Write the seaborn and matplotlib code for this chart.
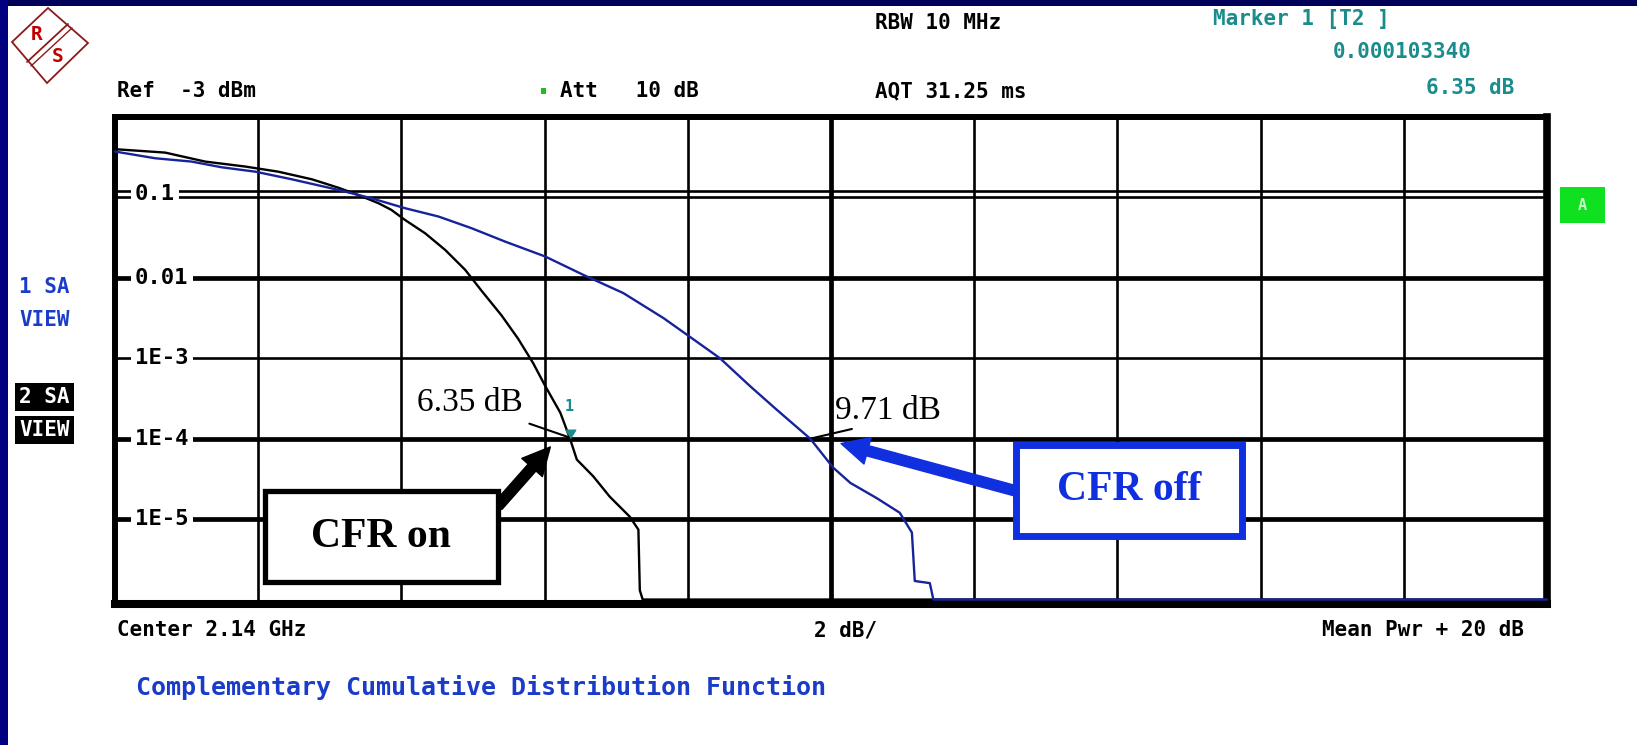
import pandas as pd
import seaborn as sns
import matplotlib.pyplot as plt
from matplotlib.patches import Rectangle, Polygon

cfr_on_db = [0.0, 0.70, 1.26, 1.82, 2.28, 2.75, 3.12, 3.40, 3.68, 3.86,
             4.05, 4.33, 4.61, 4.89, 5.12, 5.40, 5.63, 5.84, 6.01, 6.22,
             6.35, 6.45, 6.68, 6.91, 7.19, 7.31, 7.33, 7.37, 20.0]
cfr_on_ccdf = [0.398, 0.361, 0.279, 0.242, 0.209, 0.168, 0.132, 0.107, 0.0847, 0.070,
               0.0525, 0.0359, 0.0223, 0.0126, 0.0069, 0.0034, 0.00175, 0.00087, 0.00045, 0.00021,
               0.000103, 0.000055, 0.000034, 0.000019, 0.0000107, 0.0000074, 0.0000013, 0.000001, 0.000001]

cfr_off_db = [0.0, 0.56, 1.07, 1.49, 1.96, 2.47, 3.12, 3.58, 4.05, 4.52,
              4.98, 5.45, 6.01, 6.54, 7.10, 7.66, 8.01, 8.45, 8.87, 9.24,
              9.71, 10.03, 10.27, 10.64, 10.96, 11.13, 11.17, 11.38, 11.43, 20.0]
cfr_off_ccdf = [0.372, 0.307, 0.279, 0.237, 0.209, 0.168, 0.124, 0.0977, 0.0735, 0.0578,
                0.0414, 0.0282, 0.0184, 0.0109, 0.00646, 0.00316, 0.0019, 0.001, 0.00045, 0.00023,
                0.0001, 0.0000437, 0.0000282, 0.0000182, 0.000012, 0.0000068, 0.0000017, 0.0000016, 0.000001, 0.000001]

y_ticks = [1e-1, 1e-2, 1e-3, 1e-4, 1e-5]
y_labels = ["0.1", "0.01", "1E-3", "1E-4", "1E-5"]
thick_rows = [1e-2, 1e-4, 1e-5]
x_grid = [2, 4, 6, 8, 10, 12, 14, 16, 18]

marker_db = 6.35
marker_ccdf = 0.000103340
off_db = 9.71
off_ccdf = 1e-4

MONO = "DejaVu Sans Mono"
SERIF = "Liberation Serif"
NAVY = "#00005a"
TEAL = "#1a8c8c"
TRACE_BLUE = "#16239a"
BLUE = "#1030e0"

sns.set_style("white")
plt.rcParams["font.family"] = ["DejaVu Sans"]

W, H = 1637, 745
fig = plt.figure(figsize=(W / 100, H / 100), dpi=100)
fig.patch.set_facecolor("white")


def fx(px):
    return px / W


def fy(py):
    return 1 - py / H


ax = fig.add_axes([fx(115), fy(604), fx(1547) - fx(115), fy(117) - fy(604)])
ax.set_yscale("log")

df = pd.concat([
    pd.DataFrame({"db": cfr_on_db, "ccdf": cfr_on_ccdf, "trace": "on"}),
    pd.DataFrame({"db": cfr_off_db, "ccdf": cfr_off_ccdf, "trace": "off"}),
])
sns.lineplot(data=df, x="db", y="ccdf", hue="trace",
             palette={"on": "black", "off": TRACE_BLUE},
             estimator=None, sort=False, linewidth=1.7, legend=False, ax=ax)
for line in ax.lines:
    line.set_clip_on(False)
    line.set_zorder(5)

ax.set_xlim(0, 20)
ax.set_ylim(0.88e-6, 1)
ax.tick_params(which="both", left=False, bottom=False, labelleft=False, labelbottom=False)
ax.set_xlabel("")
ax.set_ylabel("")

# grille style analyseur
for v in x_grid:
    ax.axvline(v, color="black", lw=3.4 if v == 10 else 1.9, zorder=1)
for v in y_ticks:
    ax.axhline(v, color="black", lw=3.4 if v in thick_rows else 1.9, zorder=1)
ax.axhline(0.119, color="black", lw=1.9, zorder=1)

for s in ax.spines.values():
    s.set_visible(True)
    s.set_color("black")
    s.set_linewidth(4.3)
    s.set_zorder(4)
ax.spines["bottom"].set_linewidth(5.8)
ax.spines["right"].set_linewidth(5.5)

for v, lab in zip(y_ticks, y_labels):
    yv = 0.109 if lab == "0.1" else v
    ax.text(0.014, yv, lab, transform=ax.get_yaxis_transform(), ha="left", va="center",
            family=MONO, weight="bold", fontsize=16, color="black", zorder=3,
            bbox=dict(facecolor="white", edgecolor="none", pad=3))

# marqueur 1
ax.plot([marker_db], [marker_ccdf], linestyle="none", marker=[(-1, 1.6), (1, 1.6), (0, 0)],
        markersize=12, color=TEAL, zorder=7, clip_on=False)
ax.annotate("1", xy=(marker_db, marker_ccdf), xytext=(0, 22), textcoords="offset points",
            ha="center", va="center", family=MONO, weight="bold", fontsize=11, color=TEAL)

# annotations des valeurs
ax.annotate("", xy=(marker_db, marker_ccdf), xytext=(-29, 10), textcoords="offset points",
            arrowprops=dict(arrowstyle="-", color="black", lw=1.5, shrinkA=0, shrinkB=0))
ax.annotate("6.35 dB", xy=(marker_db, marker_ccdf), xytext=(-34, 19), textcoords="offset points",
            ha="right", va="baseline", family=SERIF, fontsize=24, color="black")
ax.annotate("", xy=(off_db, off_ccdf), xytext=(30, 7), textcoords="offset points",
            arrowprops=dict(arrowstyle="-", color="black", lw=1.5, shrinkA=0, shrinkB=0))
ax.annotate("9.71 dB", xy=(off_db, off_ccdf), xytext=(18, 14), textcoords="offset points",
            ha="left", va="baseline", family=SERIF, fontsize=24, color="black")

# flèches vers les boîtes CFR
ax.annotate("", xy=(6.08, 7.9e-5), xytext=(498, H - 506), textcoords="figure pixels",
            arrowprops=dict(arrowstyle="simple,head_length=0.9,head_width=0.9,tail_width=0.34",
                            color="black", mutation_scale=22, shrinkA=0, shrinkB=0))
ax.annotate("", xy=(10.14, 8.7e-5), xytext=(1016, H - 491), textcoords="figure pixels",
            arrowprops=dict(arrowstyle="simple,head_length=0.9,head_width=0.9,tail_width=0.34",
                            color=BLUE, mutation_scale=22, shrinkA=0, shrinkB=0))

fig.add_artist(Rectangle((fx(265), fy(582)), fx(498) - fx(265), fy(491) - fy(582),
                         transform=fig.transFigure, facecolor="white", edgecolor="black", lw=3.8))
fig.text(fx(381), fy(537), "CFR on", ha="center", va="center", family=SERIF,
         weight="bold", fontsize=30, color="black")
fig.add_artist(Rectangle((fx(1016), fy(536)), fx(1242) - fx(1016), fy(445) - fy(536),
                         transform=fig.transFigure, facecolor="white", edgecolor=BLUE, lw=5))
fig.text(fx(1129), fy(490), "CFR off", ha="center", va="center", family=SERIF,
         weight="bold", fontsize=30, color=BLUE)

# cadre bleu marine
fig.add_artist(Rectangle((0, fy(6)), 1, 6 / H, transform=fig.transFigure, color=NAVY, lw=0))
fig.add_artist(Rectangle((0, 0), 8 / W, 1, transform=fig.transFigure, color="#000080", lw=0))

# logo R&S
fig.add_artist(Polygon([(fx(48), fy(8)), (fx(88), fy(43)), (fx(47), fy(83)), (fx(12), fy(42))],
                       closed=True, transform=fig.transFigure, fill=False,
                       edgecolor="#8b1a1a", lw=1.3))
fig.add_artist(plt.Line2D([fx(68), fx(27)], [fy(24), fy(62)], transform=fig.transFigure,
                          color="#8b1a1a", lw=1.3))
fig.add_artist(plt.Line2D([fx(72), fx(31)], [fy(28), fy(66)], transform=fig.transFigure,
                          color="#8b1a1a", lw=1.0))
fig.text(fx(37), fy(34), "R", ha="center", va="center", family=MONO, weight="bold",
         fontsize=14, color="#c00000")
fig.text(fx(58), fy(56), "S", ha="center", va="center", family=MONO, weight="bold",
         fontsize=14, color="#c00000")

# textes de l'en-tête
hdr = dict(family=MONO, weight="bold", fontsize=15, va="center")
fig.text(fx(875), fy(23), "RBW 10 MHz", ha="left", color="black", **hdr)
fig.text(fx(1213), fy(19), "Marker 1 [T2 ]", ha="left", color=TEAL, **hdr)
fig.text(fx(1472), fy(52), "0.000103340", ha="right", color=TEAL, **hdr)
fig.text(fx(1514), fy(88), "6.35 dB", ha="right", color=TEAL, **hdr)
fig.text(fx(117), fy(91), "Ref  -3 dBm", ha="left", color="black", **hdr)
fig.add_artist(Rectangle((fx(541), fy(94)), 5 / W, 6 / H, transform=fig.transFigure,
                         color="#22bb22", lw=0))
fig.text(fx(560), fy(91), "Att   10 dB", ha="left", color="black", **hdr)
fig.text(fx(875), fy(91), "AQT 31.25 ms", ha="left", color="black", **hdr)

# textes latéraux
fig.text(fx(19), fy(287), "1 SA", ha="left", color="#1a3cc8", **hdr)
fig.text(fx(19), fy(320), "VIEW", ha="left", color="#1a3cc8", **hdr)
fig.text(fx(19), fy(397), "2 SA", ha="left", color="white",
         bbox=dict(facecolor="black", edgecolor="none", pad=3), **hdr)
fig.text(fx(19), fy(430), "VIEW", ha="left", color="white",
         bbox=dict(facecolor="black", edgecolor="none", pad=3), **hdr)

fig.add_artist(Rectangle((fx(1560), fy(223)), fx(1605) - fx(1560), fy(187) - fy(223),
                         transform=fig.transFigure, color="#0fe020", lw=0))
fig.text(fx(1582), fy(205), "A", ha="center", va="center", family=MONO, weight="bold",
         fontsize=11, color="#c8f7c8")

# textes du bas
fig.text(fx(117), fy(630), "Center 2.14 GHz", ha="left", color="black", **hdr)
fig.text(fx(814), fy(630), "2 dB/", ha="left", color="black", **hdr)
fig.text(fx(1524), fy(630), "Mean Pwr + 20 dB", ha="right", color="black", **hdr)
fig.text(fx(136), fy(687), "Complementary Cumulative Distribution Function", ha="left",
         color="#1a3cc8", family=MONO, weight="bold", fontsize=18, va="center")

plt.savefig("out.png", dpi=100)
plt.close()
